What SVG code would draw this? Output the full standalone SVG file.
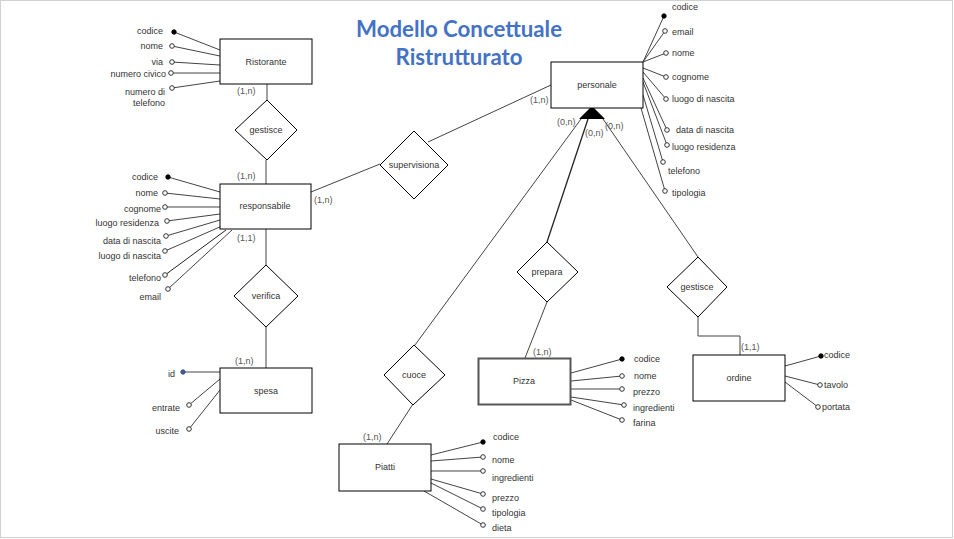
<svg xmlns="http://www.w3.org/2000/svg" width="954" height="539" viewBox="0 0 954 539">
<style>
text{font-family:"Liberation Sans",Arial,sans-serif;font-size:9px;fill:#333}
.t{font-family:Lato,"Open Sans",sans-serif;font-size:22px;font-weight:bold;fill:#4472C4}
.c{fill:#555}
.e{fill:#fff;stroke:#000;stroke-width:1}
.r{fill:#fff;stroke:#000;stroke-width:1}
.l{stroke:#444;stroke-width:1;fill:none}
.a{fill:#fff;stroke:#333;stroke-width:1}
.k{fill:#000;stroke:#000;stroke-width:1}
.m{text-anchor:middle}
.n{text-anchor:end}
</style>
<rect x="0.5" y="0.5" width="952" height="537" fill="#fff" stroke="#d0d0d0" stroke-width="1"/>
<g id="title">
<text class="t m" x="459" y="37" textLength="206" lengthAdjust="spacingAndGlyphs">Modello Concettuale</text>
<text class="t m" x="459" y="65" textLength="127" lengthAdjust="spacingAndGlyphs">Ristrutturato</text>
</g>
<g id="connectors">
<line class="l" x1="267" y1="84" x2="267" y2="100"/>
<line class="l" x1="266" y1="160" x2="266" y2="184"/>
<line class="l" x1="266" y1="229" x2="266" y2="265"/>
<line class="l" x1="266" y1="327" x2="266" y2="368"/>
<line class="l" x1="311" y1="192" x2="380" y2="164"/>
<line class="l" x1="428" y1="142" x2="551" y2="85"/>
<line class="l" x1="581" y1="119" x2="415" y2="345"/>
<line x1="588" y1="119" x2="547" y2="242" stroke="#222" stroke-width="1.3"/>
<line class="l" x1="603" y1="119" x2="698" y2="257"/>
<line class="l" x1="547" y1="302" x2="525" y2="358"/>
<line class="l" x1="413" y1="404" x2="387" y2="444"/>
<polyline class="l" points="698,317 698,336 740,336 740,355"/>
<polygon points="592,106 579,119 605,119" fill="#000"/>
<text class="c" x="237" y="94">(1,n)</text>
<text class="c" x="237" y="179">(1,n)</text>
<text class="c" x="237" y="241">(1,1)</text>
<text class="c" x="235" y="364">(1,n)</text>
<text class="c" x="314" y="203">(1,n)</text>
<text class="c" x="530" y="103">(1,n)</text>
<text class="c" x="557" y="125">(0,n)</text>
<text class="c" x="585" y="136">(0,n)</text>
<text class="c" x="605" y="129">(0,n)</text>
<text class="c" x="533" y="355">(1,n)</text>
<text class="c" x="363" y="440">(1,n)</text>
<text class="c" x="741" y="350">(1,1)</text>
</g>
<g id="ristorante">
<line class="l" x1="174" y1="32" x2="220" y2="50"/>
<line class="l" x1="172" y1="46" x2="220" y2="56"/>
<line class="l" x1="172" y1="62" x2="220" y2="65"/>
<line class="l" x1="171" y1="73" x2="220" y2="73"/>
<line class="l" x1="172" y1="88" x2="220" y2="81"/>
<rect class="e" x="220" y="39" width="92" height="45"/>
<text class="m" x="266" y="65">Ristorante</text>
<circle class="k" cx="174" cy="32" r="2.2"/>
<circle class="a" cx="172" cy="46" r="2.3"/>
<circle class="a" cx="172" cy="62" r="2.3"/>
<circle class="a" cx="171" cy="73" r="2.3"/>
<circle class="a" cx="172" cy="88" r="2.3"/>
<text class="n" x="163" y="34">codice</text>
<text class="n" x="163" y="49">nome</text>
<text class="n" x="163" y="65">via</text>
<text class="n" x="166" y="77">numero civico</text>
<text class="n" x="165" y="95">numero di</text>
<text class="n" x="165" y="106">telefono</text>
</g>
<g id="gestisce">
<polygon class="r" points="267,100 297,130 267,160 235,130"/>
<text class="m" x="266" y="133">gestisce</text>
</g>
<g id="responsabile">
<line class="l" x1="168" y1="177" x2="220" y2="192"/>
<line class="l" x1="165" y1="193" x2="220" y2="199"/>
<line class="l" x1="165" y1="207" x2="220" y2="207"/>
<line class="l" x1="167" y1="221" x2="220" y2="214"/>
<line class="l" x1="166" y1="236" x2="220" y2="220"/>
<line class="l" x1="165" y1="251" x2="222" y2="226"/>
<line x1="165" y1="275" x2="226" y2="230" stroke="#222" stroke-width="1"/>
<line class="l" x1="168" y1="289" x2="232" y2="230"/>
<rect class="e" x="220" y="184" width="91" height="45"/>
<text class="m" x="265" y="209">responsabile</text>
<circle class="k" cx="168" cy="177" r="2.2"/>
<circle class="a" cx="165" cy="193" r="2.3"/>
<circle class="a" cx="165" cy="207" r="2.3"/>
<circle class="a" cx="167" cy="221" r="2.3"/>
<circle class="a" cx="166" cy="236" r="2.3"/>
<circle class="a" cx="165" cy="251" r="2.3"/>
<circle class="a" cx="165" cy="275" r="2.3"/>
<circle class="a" cx="168" cy="289" r="2.3"/>
<text class="n" x="158" y="180">codice</text>
<text class="n" x="158" y="196">nome</text>
<text class="n" x="161" y="212">cognome</text>
<text class="n" x="159" y="226">luogo residenza</text>
<text class="n" x="161" y="244">data di nascita</text>
<text class="n" x="161" y="259">luogo di nascita</text>
<text class="n" x="161" y="281">telefono</text>
<text class="n" x="161" y="300">email</text>
</g>
<g id="verifica">
<polygon class="r" points="266,265 298,296 266,327 234,296"/>
<text class="m" x="266" y="299">verifica</text>
</g>
<g id="spesa">
<line class="l" x1="183" y1="372" x2="220" y2="372"/>
<line class="l" x1="189" y1="405" x2="220" y2="379"/>
<line class="l" x1="189" y1="429" x2="220" y2="390"/>
<rect class="e" x="220" y="368" width="92" height="45"/>
<text class="m" x="266" y="394">spesa</text>
<circle cx="183" cy="372" r="2.2" fill="#3f5a8a" stroke="#3f5a8a"/>
<circle class="a" cx="189" cy="405" r="2.3"/>
<circle class="a" cx="189" cy="429" r="2.3"/>
<text class="n" x="175" y="377">id</text>
<text class="n" x="180" y="411">entrate</text>
<text class="n" x="179" y="434">uscite</text>
</g>
<g id="supervisiona">
<polygon class="r" points="414,131 448,165 414,199 380,165"/>
<text class="m" x="414" y="168">supervisiona</text>
</g>
<g id="personale">
<line class="l" x1="643" y1="62" x2="664" y2="16"/>
<line class="l" x1="643" y1="62" x2="665" y2="31"/>
<line class="l" x1="643" y1="62" x2="666" y2="53"/>
<line class="l" x1="643" y1="68" x2="666" y2="77"/>
<line class="l" x1="643" y1="72" x2="666" y2="99"/>
<line class="l" x1="643" y1="78" x2="667" y2="130"/>
<line class="l" x1="643" y1="82" x2="667" y2="145"/>
<line class="l" x1="643" y1="95" x2="663" y2="162"/>
<line class="l" x1="641" y1="108" x2="665" y2="191"/>
<rect class="e" x="551" y="62" width="92" height="46"/>
<text class="m" x="597" y="88">personale</text>
<circle class="k" cx="664" cy="16" r="2.2"/>
<circle class="a" cx="665" cy="31" r="2.3"/>
<circle class="a" cx="666" cy="53" r="2.3"/>
<circle class="a" cx="666" cy="77" r="2.3"/>
<circle class="a" cx="666" cy="99" r="2.3"/>
<circle class="a" cx="667" cy="130" r="2.3"/>
<circle class="a" cx="667" cy="145" r="2.3"/>
<circle class="a" cx="663" cy="162" r="2.3"/>
<circle class="a" cx="665" cy="191" r="2.3"/>
<text x="672" y="10">codice</text>
<text x="672" y="35">email</text>
<text x="672" y="56">nome</text>
<text x="672" y="80">cognome</text>
<text x="672" y="102">luogo di nascita</text>
<text x="676" y="133">data di nascita</text>
<text x="672" y="150">luogo residenza</text>
<text x="668" y="174">telefono</text>
<text x="672" y="196">tipologia</text>
</g>
<g id="cuoce">
<polygon class="r" points="414,345 445,375 413,405 384,375"/>
<text class="m" x="414" y="378">cuoce</text>
</g>
<g id="prepara">
<polygon class="r" points="547,242 578,272 547,302 517,272"/>
<text class="m" x="547" y="275">prepara</text>
</g>
<g id="gestisce2">
<polygon class="r" points="698,257 727,287 698,317 667,287"/>
<text class="m" x="697" y="290">gestisce</text>
</g>
<g id="pizza">
<line class="l" x1="571" y1="373" x2="622" y2="359"/>
<line class="l" x1="571" y1="381" x2="622" y2="376"/>
<line class="l" x1="571" y1="389" x2="622" y2="389"/>
<line class="l" x1="571" y1="397" x2="624" y2="405"/>
<line class="l" x1="571" y1="400" x2="622" y2="420"/>
<rect x="478.5" y="358.5" width="92" height="46" fill="#fff" stroke="#555" stroke-width="2"/>
<text class="m" x="524" y="384">Pizza</text>
<circle class="k" cx="622" cy="359" r="2.2"/>
<circle class="a" cx="622" cy="376" r="2.3"/>
<circle class="a" cx="622" cy="389" r="2.3"/>
<circle class="a" cx="624" cy="405" r="2.3"/>
<circle class="a" cx="622" cy="420" r="2.3"/>
<text x="634" y="362">codice</text>
<text x="634" y="379">nome</text>
<text x="633" y="395">prezzo</text>
<text x="633" y="411">ingredienti</text>
<text x="633" y="426">farina</text>
</g>
<g id="piatti">
<line class="l" x1="431" y1="455" x2="483" y2="442"/>
<line class="l" x1="431" y1="461" x2="483" y2="457"/>
<line class="l" x1="431" y1="471" x2="483" y2="471"/>
<line class="l" x1="431" y1="479" x2="483" y2="494"/>
<line class="l" x1="431" y1="483" x2="483" y2="509"/>
<line class="l" x1="424" y1="491" x2="483" y2="525"/>
<rect class="e" x="339" y="444" width="92" height="47"/>
<text class="m" x="385" y="470">Piatti</text>
<circle class="k" cx="483" cy="442" r="2.2"/>
<circle class="a" cx="483" cy="457" r="2.3"/>
<circle class="a" cx="483" cy="471" r="2.3"/>
<circle class="a" cx="483" cy="494" r="2.3"/>
<circle class="a" cx="483" cy="509" r="2.3"/>
<circle class="a" cx="483" cy="525" r="2.3"/>
<text x="493" y="440">codice</text>
<text x="492" y="463">nome</text>
<text x="492" y="481">ingredienti</text>
<text x="492" y="501">prezzo</text>
<text x="492" y="516">tipologia</text>
<text x="492" y="531">dieta</text>
</g>
<g id="ordine">
<line class="l" x1="785" y1="366" x2="821" y2="356"/>
<line class="l" x1="785" y1="376" x2="820" y2="385"/>
<line class="l" x1="785" y1="382" x2="818" y2="407"/>
<rect class="e" x="693" y="355" width="92" height="46"/>
<text class="m" x="739" y="381">ordine</text>
<circle class="k" cx="821" cy="356" r="2.2"/>
<circle class="a" cx="820" cy="385" r="2.3"/>
<circle class="a" cx="818" cy="407" r="2.3"/>
<text x="824" y="358">codice</text>
<text x="824" y="388">tavolo</text>
<text x="822" y="410">portata</text>
</g>
</svg>
